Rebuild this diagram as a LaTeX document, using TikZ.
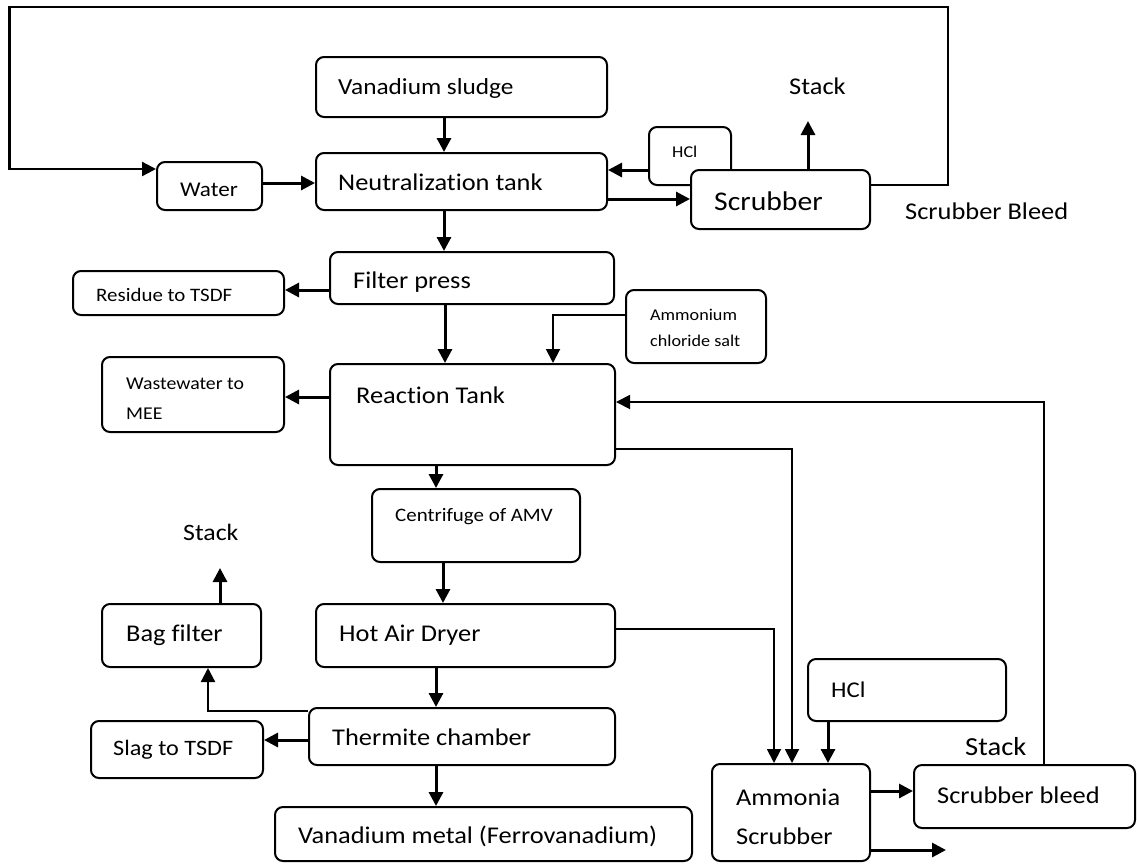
\documentclass[tikz,border=0pt]{standalone}
\usepackage{fontspec}
\setmainfont{Carlito}[FakeStretch=1.1, Ligatures=NoCommon]
\usetikzlibrary{arrows.meta}

\begin{document}
\begin{tikzpicture}[x=1pt,y=-1pt,
    box/.style={draw, line width=2pt, rounded corners=8pt, fill=white, inner sep=0pt},
    txt/.style={inner sep=0pt, anchor=west},
    txtml/.style={inner sep=0pt, anchor=base west, align=left},
    flow/.style={line width=3pt, -{Triangle[length=14pt,width=14pt]}},
    pipe/.style={line width=1.9pt, -{Triangle[length=14pt,width=14pt]}}]
\useasboundingbox (0,0) rectangle (1137,863);

\foreach \n/\a/\b/\c/\d in {sludge/316/57/607/117, neut/316/153/607/210, water/157/162/262/210,
    hcltop/649/127/731/185, scrub/691/170/870/229, filter/330/252/614/304, residue/73/271/284/315,
    ammon/626/290/766/363, reaction/330/364/615/465, waste/102/357/284/432, centri/372/489/580/562,
    bag/102/604/261/667, dryer/316/604/615/667, thermite/309/708/615/765, slag/91/721/263/778,
    metal/275/807/692/861, hclbot/808/659/1006/721, ammonia/712/764/870/861, bleed/914/765/1135/828}
    \node[box, minimum width={\c-\a}, minimum height={\d-\b}] (\n) at ({(\a+\c)/2},{(\b+\d)/2}) {};

\foreach \n/\x/\y/\s/\t in {tsludge/338/87.5/23/Vanadium sludge, tneut/338/182.5/24/Neutralization tank,
    twater/180/189.5/21/Water, thcla/672/152.5/16.5/HCl, tscrub/714/202/27/Scrubber,
    tstacka/789/86.5/24/Stack, tbleeda/905/212/24/Scrubber Bleed, tfilter/353/281/24/Filter press,
    tresidue/96/296/19/Residue to TSDF, treaction/356/396/24/Reaction Tank,
    tcentri/395/515.5/19/Centrifuge of AMV, tstackb/183/533/23.5/Stack, tbag/126/634/24/Bag filter,
    tdryer/339/634/24/Hot Air Dryer, tthermite/332/738/24/Thermite chamber,
    tslag/113/748.5/22/Slag to TSDF, tmetal/298/836/24/Vanadium metal (Ferrovanadium),
    thclb/831/690.5/22.5/HCl, tstackc/965/747.5/26/Stack, tbleedb/937/796/24/Scrubber bleed}
    \node[txt, font=\fontsize{\s}{\s}\selectfont, text height={0.63*\s}, text depth=0pt] (\n) at (\x,\y) {\t};

\node[txtml, font=\fontsize{16.5}{26}\selectfont] (tammon) at (650,346.7) {Ammonium\\chloride salt};
\node[txtml, font=\fontsize{18}{30}\selectfont] (twaste) at (126,419) {Wastewater to\\MEE};
\node[txtml, font=\fontsize{24}{38.5}\selectfont] (tammonia) at (736,844) {Ammonia\\Scrubber};

\coordinate (stacka) at (808,121);
\coordinate (stackb) at (220,568);
\coordinate (vent) at (946,850);

\draw[line width=2.4pt, -{Triangle[length=14pt,width=14pt]}] (scrub.east |- 0,185) -- (948,185) -- (948,7)
    -- (9.5,7) -- (9.5,169) -- (water.west |- 0,169);
\draw[flow] (water.east |- 0,183) -- (neut.west |- 0,183);
\draw[flow] (sludge.south -| 444,0) -- (neut.north -| 444,0);
\draw[flow] (hcltop.west |- 0,170) -- (neut.east |- 0,170);
\draw[flow] (neut.east |- 0,199) -- (scrub.west |- 0,199);
\draw[flow] (scrub.north -| stacka) -- (stacka);
\draw[flow] (neut.south -| 444,0) -- (filter.north -| 444,0);
\draw[flow] (filter.west |- 0,290) -- (residue.east |- 0,290);
\draw[flow] (filter.south -| 445,0) -- (reaction.north -| 445,0);
\draw[pipe] (ammon.west |- 0,315) -| (reaction.north -| 553,0);
\draw[flow] (reaction.west |- 0,397) -- (waste.east |- 0,397);
\draw[pipe] (bleed.north -| 1044,0) |- (reaction.east |- 0,402);
\draw[pipe] (reaction.east |- 0,449) -| (ammonia.north -| 792,0);
\draw[pipe] (dryer.east |- 0,629) -| (ammonia.north -| 774,0);
\draw[flow] (reaction.south -| 436,0) -- (centri.north -| 436,0);
\draw[flow] (centri.south -| 443,0) -- (dryer.north -| 443,0);
\draw[flow] (dryer.south -| 436,0) -- (thermite.north -| 436,0);
\draw[flow] (thermite.south -| 436,0) -- (metal.north -| 436,0);
\draw[line width=2.3pt, -{Triangle[length=14pt,width=14pt]}] (thermite.west |- 0,711) -| (bag.south -| 208,0);
\draw[flow] (bag.north -| stackb) -- (stackb);
\draw[flow] (thermite.west |- 0,740) -- (slag.east |- 0,740);
\draw[flow] (hclbot.south -| 828,0) -- (ammonia.north -| 828,0);
\draw[flow] (ammonia.east |- 0,791) -- (bleed.west |- 0,791);
\draw[flow] (ammonia.east |- 0,850) -- (vent);
\end{tikzpicture}
\end{document}
